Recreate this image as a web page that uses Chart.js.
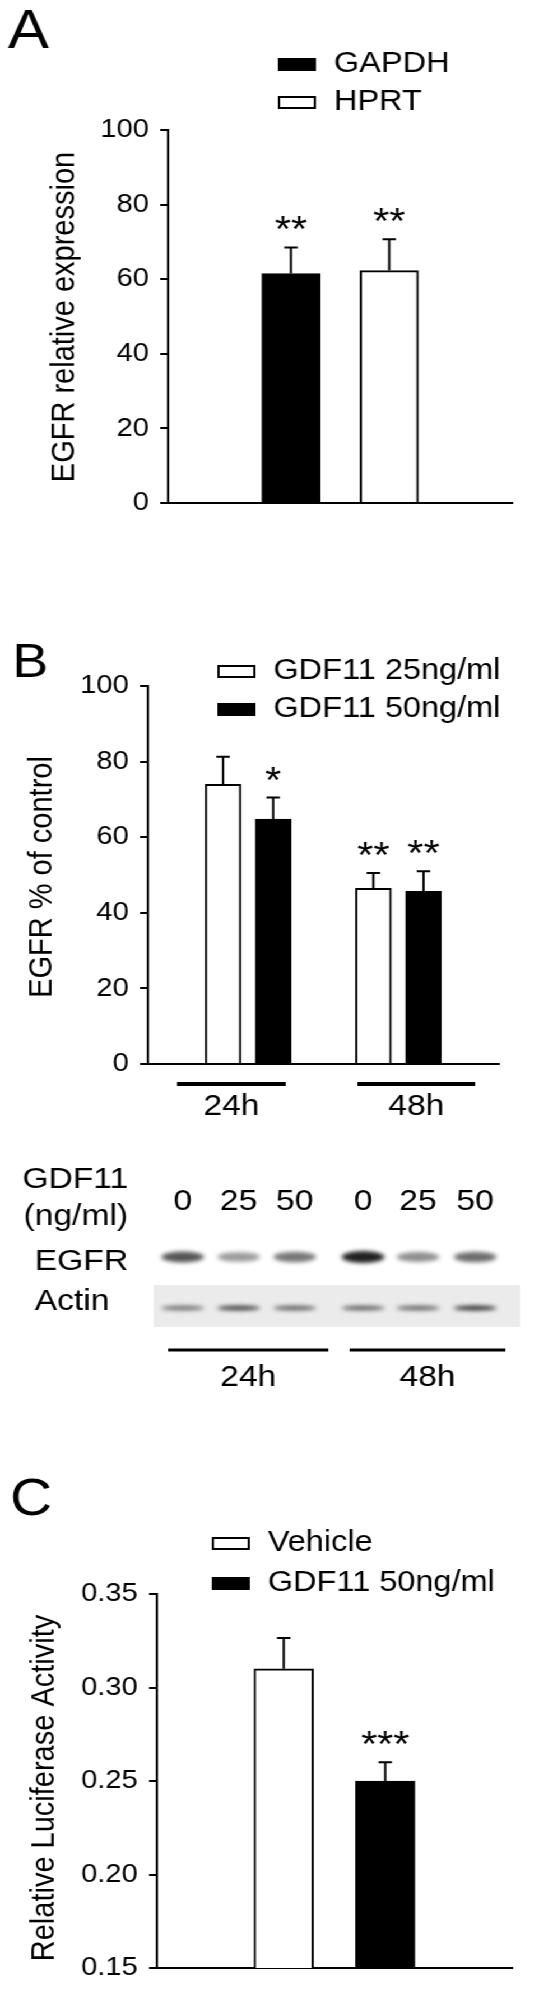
<!DOCTYPE html>
<html>
<head>
<meta charset="utf-8">
<script src="https://cdn.jsdelivr.net/npm/chart.js@4.4.1/dist/chart.umd.min.js"></script>
<style>
  body { margin: 0; background: #fff; }
  #wrap { position: relative; width: 481px; height: 2000px; transform: scaleX(1.1206); transform-origin: 0 0; }
  canvas { position: absolute; left: 0; }
</style>
</head>
<body>
<div id="wrap">
  <canvas id="chartA" width="481" height="540" style="top:0"></canvas>
  <canvas id="chartB" width="481" height="520" style="top:620px"></canvas>
  <canvas id="blot" width="481" height="260" style="top:1140px"></canvas>
  <canvas id="chartC" width="481" height="560" style="top:1440px"></canvas>
</div>
<script>
const FONT = '"Liberation Sans", Arial, sans-serif';

// Panel A
const aLabels = ['GAPDH', 'HPRT'];
const aValues = [61.5, 62.3];
const aErrors = [68.5, 70.7];
const aStars = ['**', '**'];

// Panel B
const bLabels = ['GDF11 25ng/ml', 'GDF11 50ng/ml'];
const bGroups = ['24h', '48h'];
const b25 = [74, 46.5];
const b25Err = [81.3, 50.5];
const b25Stars = ['', '**'];
const b50 = [64.8, 45.7];
const b50Err = [70.5, 51];
const b50Stars = ['*', '**'];

// western blot under panel B
const laneDoses = ['0', '25', '50', '0', '25', '50'];
const egfrBand = [0.72, 0.42, 0.58, 0.95, 0.48, 0.62];
const actinBand = [0.55, 0.78, 0.62, 0.62, 0.6, 0.85];

// Panel C
const cLabels = ['Vehicle', 'GDF11 50ng/ml'];
const cValues = [0.31, 0.25];
const cErrors = [0.3265, 0.26];
const cStars = ['', '***'];

function drawText(ctx, txt, x, y, size, align, rot) {
  ctx.save();
  ctx.fillStyle = '#000';
  ctx.font = size + 'px ' + FONT;
  ctx.textAlign = align || 'left';
  ctx.textBaseline = 'middle';
  ctx.translate(x, y);
  if (rot) ctx.rotate(rot);
  ctx.fillText(txt, 0, 0);
  ctx.restore();
}

// error bars, stars, letter, y title, legend
const deco = {
  id: 'deco',
  afterDatasetsDraw(chart, args, o) {
    const ctx = chart.ctx, y = chart.scales.y;
    ctx.save();
    ctx.strokeStyle = '#000';
    ctx.lineWidth = 2;
    chart.data.datasets.forEach((ds, i) => {
      chart.getDatasetMeta(i).data.forEach((bar, j) => {
        const ey = y.getPixelForValue(ds.err[j]);
        ctx.beginPath();
        ctx.moveTo(bar.x, bar.y); ctx.lineTo(bar.x, ey);
        ctx.moveTo(bar.x - 6, ey); ctx.lineTo(bar.x + 6, ey);
        ctx.stroke();
        if (ds.stars[j]) {
          ctx.fillStyle = '#000';
          ctx.font = '37px ' + FONT;
          ctx.textAlign = 'center';
          ctx.textBaseline = 'alphabetic';
          ctx.fillText(ds.stars[j], bar.x, ey - 5);
        }
      });
    });
    ctx.restore();
    drawText(ctx, o.letter, o.letterX, o.letterY, o.letterSize, 'left');
    drawText(ctx, o.title, o.titleX, o.titleY, 29, 'center', -Math.PI / 2);
    chart.data.datasets.forEach((ds, i) => {
      const ly = o.legendY[i];
      ctx.save();
      ctx.fillStyle = ds.backgroundColor;
      ctx.strokeStyle = '#000';
      ctx.lineWidth = 2;
      ctx.fillRect(o.legendX, ly - 5, 32, 11);
      ctx.strokeRect(o.legendX, ly - 5, 32, 11);
      ctx.restore();
      drawText(ctx, ds.label, o.legendX + 49, ly, 29, 'left');
    });
    if (o.groups) {
      ctx.save();
      ctx.strokeStyle = '#000';
      ctx.lineWidth = 4;
      o.groups.forEach(g => {
        ctx.beginPath(); ctx.moveTo(g.x0, o.groupLineY); ctx.lineTo(g.x1, o.groupLineY); ctx.stroke();
        drawText(ctx, g.label, (g.x0 + g.x1) / 2, o.groupLabelY, 30, 'center');
      });
      ctx.restore();
    }
  }
};

function makeChart(id, datasets, xMax, yOpts, pad, yWidth, decoOpts) {
  return new Chart(document.getElementById(id), {
    type: 'bar',
    data: { datasets },
    options: {
      responsive: false,
      animation: false,
      layout: { padding: pad },
      plugins: { legend: { display: false }, tooltip: { enabled: false }, deco: decoOpts },
      scales: {
        x: {
          type: 'linear', min: 0, max: xMax,
          grid: { display: false, drawTicks: false },
          ticks: { display: false },
          border: { display: true, color: '#000', width: 2 },
          afterFit: s => { s.height = 0; }
        },
        y: Object.assign({
          grid: { display: true, drawOnChartArea: false, drawTicks: true, tickLength: 7, color: '#000', lineWidth: 2 },
          border: { display: true, color: '#000', width: 2 },
          afterFit: s => { s.width = yWidth; }
        }, yOpts)
      }
    },
    plugins: [deco]
  });
}

function ds(label, xs, vals, errs, stars, fill, w) {
  return {
    label, err: errs, stars,
    data: xs.map((x, i) => ({ x, y: vals[i] })),
    backgroundColor: fill, borderColor: '#000', borderWidth: 2,
    borderSkipped: 'bottom', barThickness: w, grouped: false
  };
}

const tickFont = { size: 26, family: FONT };

makeChart('chartA', [
  ds(aLabels[0], [1], [aValues[0]], [aErrors[0]], [aStars[0]], '#000', 52),
  ds(aLabels[1], [2], [aValues[1]], [aErrors[1]], [aStars[1]], '#fff', 52)
], 3, { min: 0, max: 100, ticks: { color: '#000', font: tickFont, padding: 10, stepSize: 20 } },
{ top: 130, bottom: 37, left: 0, right: 24 }, 150,
{ letter: 'A', letterX: 7, letterY: 33, letterSize: 55, title: 'EGFR relative expression', titleX: 58, titleY: 317,
  legendX: 249, legendY: [64, 102] });

makeChart('chartB', [
  ds(bLabels[0], [1, 4], b25, b25Err, b25Stars, '#fff', 32),
  ds(bLabels[1], [2, 5], b50, b50Err, b50Stars, '#000', 32)
], 6, { min: 0, max: 100, ticks: { color: '#000', font: tickFont, padding: 10, stepSize: 20 } },
{ top: 66, bottom: 76, left: 0, right: 36 }, 132,
{ letter: 'B', letterX: 11, letterY: 44, letterSize: 48, title: 'EGFR % of control', titleX: 38, titleY: 257,
  legendX: 195, legendY: [51, 89], groupLineY: 464, groupLabelY: 487,
  groups: [{ x0: 158, x1: 255, label: bGroups[0] }, { x0: 319, x1: 424, label: bGroups[1] }] });

makeChart('chartC', [
  ds(cLabels[0], [1], [cValues[0]], [cErrors[0]], [cStars[0]], '#fff', 53),
  ds(cLabels[1], [2], [cValues[1]], [cErrors[1]], [cStars[1]], '#000', 53)
], 3, { min: 0.15, max: 0.35, ticks: { color: '#000', font: tickFont, padding: 10, stepSize: 0.05, callback: v => v.toFixed(2) } },
{ top: 154, bottom: 32, left: 0, right: 24 }, 140,
{ letter: 'C', letterX: 9, letterY: 61, letterSize: 52, title: 'Relative Luciferase Activity', titleX: 40, titleY: 348,
  legendX: 190, legendY: [103, 143] });

// blot picture
(function () {
  const ctx = document.getElementById('blot').getContext('2d');
  const laneX = [163, 213, 263, 324, 373, 424];
  drawText(ctx, 'GDF11', 20, 40, 30, 'left');
  drawText(ctx, '(ng/ml)', 21, 77, 30, 'left');
  laneDoses.forEach((d, i) => drawText(ctx, d, laneX[i], 62, 30, 'center'));
  drawText(ctx, 'EGFR', 31, 122, 30, 'left');
  drawText(ctx, 'Actin', 31, 162, 30, 'left');
  ctx.fillStyle = '#ebebeb';
  ctx.fillRect(137, 145, 327, 42);
  function band(x, y, a, h) {
    ctx.save();
    ctx.filter = 'blur(2px)';
    ctx.fillStyle = 'rgba(20,20,20,' + a + ')';
    ctx.beginPath();
    ctx.ellipse(x, y, 19, h, 0, 0, Math.PI * 2);
    ctx.fill();
    ctx.restore();
  }
  egfrBand.forEach((a, i) => band(laneX[i], 117, a, 4 + a * 2));
  actinBand.forEach((a, i) => band(laneX[i], 168, a, 2.5));
  ctx.strokeStyle = '#000';
  ctx.lineWidth = 3;
  [[150, 293, bGroups[0]], [312, 451, bGroups[1]]].forEach(g => {
    ctx.beginPath(); ctx.moveTo(g[0], 210); ctx.lineTo(g[1], 210); ctx.stroke();
    drawText(ctx, g[2], (g[0] + g[1]) / 2, 238, 30, 'center');
  });
})();
</script>
</body>
</html>
